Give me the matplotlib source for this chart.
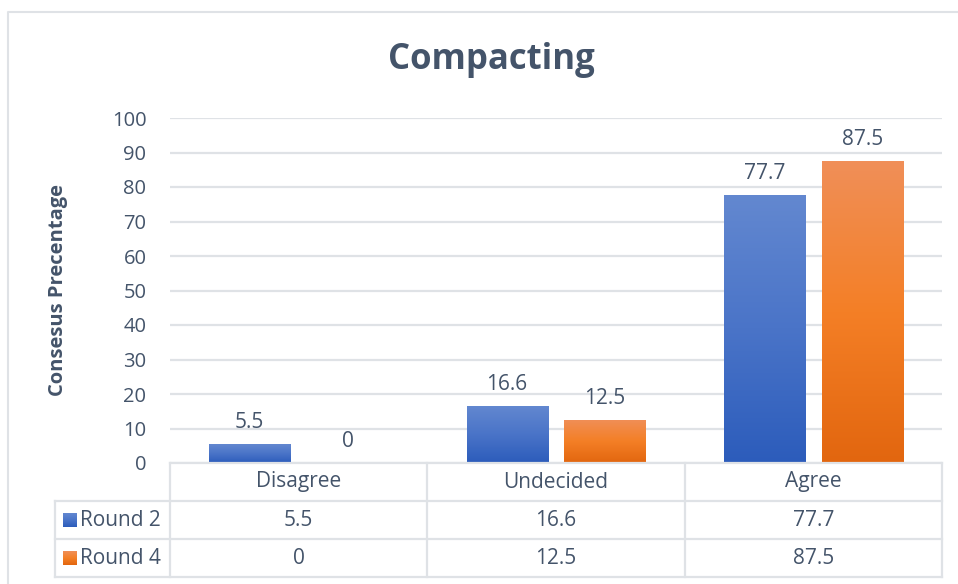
import numpy as np
import matplotlib
matplotlib.use("Agg")
import matplotlib.pyplot as plt
from matplotlib.lines import Line2D
from matplotlib.patches import Rectangle
from matplotlib.colors import LinearSegmentedColormap

categories = ["Disagree", "Undecided", "Agree"]
series_names = ["Round 2", "Round 4"]
round2 = [5.5, 16.6, 77.7]
round4 = [0, 12.5, 87.5]
yticks = list(range(0, 101, 10))

TXT = "#44546a"
GRID = "#dfe2e6"
FONT = "Open Sans"
plt.rcParams["font.family"] = [FONT, "DejaVu Sans"]

W, H = 958, 584
fig = plt.figure(figsize=(W / 100, H / 100), dpi=100)
fig.patch.set_facecolor("white")

def fx(px):
    return px / W

def fy(py):
    return 1 - py / H

# chart outer border (left + top visible)
fig.add_artist(Line2D([fx(8), fx(8), 1.0], [0.0, fy(12), fy(12)],
                      transform=fig.transFigure, color=GRID, lw=1.5))

pl, pr, pt, pb = 170, 942, 118, 463
ax = fig.add_axes([fx(pl), fy(pb), fx(pr - pl), (pb - pt) / H])
ax.set_xlim(-0.5, 2.5)
ax.set_ylim(0, 100)
for s in ax.spines.values():
    s.set_visible(False)
ax.set_yticks(yticks)
ax.set_yticklabels([str(t) for t in yticks], fontsize=14.5, color=TXT)
ax.tick_params(axis="y", length=0, pad=17)
ax.set_xticks([])
ax.grid(axis="y", color=GRID, lw=1.6)
ax.set_axisbelow(True)

blue_cmap = LinearSegmentedColormap.from_list("b", ["#2c5cbb", "#4a74c8", "#6388d0"])
orange_cmap = LinearSegmentedColormap.from_list("o", ["#e2660f", "#f47f26", "#f08f58"])

x = np.arange(len(categories))
bw = 0.315
off = 0.19
b1 = ax.bar(x - off, round2, bw, color="#4472c4", zorder=2)
b2 = ax.bar(x + off, round4, bw, color="#ed7d31", zorder=2)

grad = np.linspace(0, 1, 256).reshape(-1, 1)
for bars, cmap in ((b1, blue_cmap), (b2, orange_cmap)):
    for p in bars:
        h = p.get_height()
        if h <= 0:
            continue
        x0 = p.get_x()
        im = ax.imshow(grad, cmap=cmap, origin="lower", aspect="auto",
                       extent=[x0, x0 + p.get_width(), 0, h], zorder=3)
        im.set_clip_path(p)

ax.set_xlim(-0.5, 2.5)
ax.set_ylim(0, 100)

for bars, vals in ((b1, round2), (b2, round4)):
    for p, v in zip(bars, vals):
        ax.annotate(f"{v:g}", (p.get_x() + p.get_width() / 2, v),
                    xytext=(0, 8), textcoords="offset points",
                    ha="center", va="bottom", fontsize=15, color=TXT)

ax.set_ylabel("Consesus Precentage", fontsize=14.5, fontweight="bold",
              color=TXT)
ax.yaxis.set_label_coords(fx(68 - pl) / fx(pr - pl), 0.5)

fig.text(fx(491), fy(60), "Compacting", fontsize=25,
         fontweight="bold", color=TXT, ha="center", va="center")

# data table
tl, tt, tb = 55, 463, 577
cat_w = (pr - pl) / 3.0
left_x = -0.5 - (pl - tl) / cat_w
tax = fig.add_axes([fx(tl), fy(tb), fx(pr - tl), (tb - tt) / H])
tax.set_xlim(left_x, 2.5)
tax.set_ylim(3, 0)
tax.axis("off")
lc = dict(color=GRID, lw=1.6, clip_on=False)
tax.plot([-0.5, 2.5], [0, 0], **lc)
for r in (1, 2, 3):
    tax.plot([left_x, 2.5], [r, r], **lc)
for vx in (-0.5, 0.5, 1.5, 2.5):
    tax.plot([vx, vx], [0, 3], **lc)
tax.plot([left_x, left_x], [1, 3], **lc)

TFS = 15
for i, c in enumerate(categories):
    tax.text(i, 0.5, c, ha="center", va="center", fontsize=TFS, color=TXT)
for r, (name, vals, cmap) in enumerate(((series_names[0], round2, blue_cmap),
                                        (series_names[1], round4, orange_cmap)), start=1):
    for i, v in enumerate(vals):
        tax.text(i, r + 0.5, f"{v:g}", ha="center", va="center", fontsize=TFS, color=TXT)
    kx0 = left_x + 8 / cat_w
    kw = 14 / cat_w
    kh = 14 / 38.0
    key = Rectangle((kx0, r + 0.5 - kh / 2), kw, kh, facecolor="none", edgecolor="none")
    tax.add_patch(key)
    kim = tax.imshow(grad[::-1], cmap=cmap, origin="upper", aspect="auto",
                     extent=[kx0, kx0 + kw, r + 0.5 + kh / 2, r + 0.5 - kh / 2], zorder=3)
    kim.set_clip_path(key)
    tax.text(kx0 + kw + 3.5 / cat_w, r + 0.5, name, ha="left", va="center",
             fontsize=TFS, color=TXT)
tax.set_xlim(left_x, 2.5)
tax.set_ylim(3, 0)

fig.savefig("out.png", dpi=100)
